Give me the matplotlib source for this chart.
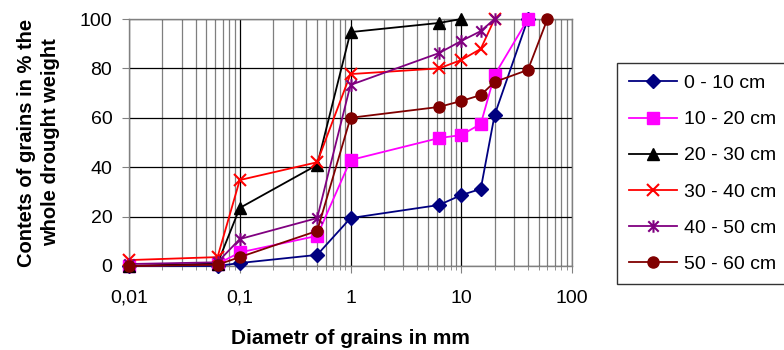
import matplotlib
matplotlib.use("Agg")
import matplotlib.pyplot as plt
from matplotlib.path import Path
from matplotlib.ticker import LogLocator, FixedLocator, FixedFormatter, NullFormatter

plt.rcParams['font.family'] = ['Liberation Sans', 'DejaVu Sans']

# grain diameters in mm
diam = [0.01, 0.063, 0.1, 0.5, 1, 6.3, 10, 15, 20, 40, 60]

# contents in % per depth layer
d0_10 = [0, 0, 1.2, 4.5, 19.4, 24.7, 28.7, 31.2, 61.1, 100]
d10_20 = [0, 0.8, 5.5, 12.2, 42.9, 51.8, 53, 57.5, 77.3, 100]
d20_30 = [0, 1, 23.5, 40.9, 94.7, 98.4, 100]
d30_40 = [2.4, 3.6, 34.8, 42, 77.7, 80, 83.4, 87.9, 100]
d40_50 = [0.8, 1.5, 10.9, 19.4, 73.3, 86.2, 91.1, 95.1, 100]
d50_60 = [0, 0.5, 3.6, 14.2, 60, 64.4, 66.8, 69.2, 74.5, 79.4, 100]

labels = ['0 - 10 cm', '10 - 20 cm', '20 - 30 cm', '30 - 40 cm', '40 - 50 cm', '50 - 60 cm']
colors = ['#000080', '#ff00ff', '#000000', '#ff0000', '#800080', '#800000']
series = [d0_10, d10_20, d20_30, d30_40, d40_50, d50_60]

# excel-like "star": an x with a vertical stroke
star = Path([(-1, -1), (1, 1), (-1, 1), (1, -1), (0, -1.2), (0, 1.2)],
            [Path.MOVETO, Path.LINETO, Path.MOVETO, Path.LINETO, Path.MOVETO, Path.LINETO])
markers = ['D', 's', '^', 'x', star, 'o']
sizes = [7, 8, 8, 8, 9, 8]

fig = plt.figure(figsize=(7.84, 3.5), dpi=100)
ax = fig.add_axes([129 / 784, 1 - 266 / 350, (572 - 129) / 784, (266 - 19) / 350])

for vals, lab, c, m, ms in zip(series, labels, colors, markers, sizes):
    line_marker = m is star or m == 'x'
    ax.plot(diam[:len(vals)], vals, color=c, marker=m, markersize=ms,
            markeredgewidth=1.5 if line_marker else 1, linewidth=1.3, label=lab,
            clip_on=False, zorder=3)

ax.set_xscale('log')
ax.set_xlim(0.01, 100)
ax.set_ylim(0, 100)

ax.xaxis.set_major_locator(FixedLocator([0.01, 0.1, 1, 10, 100]))
ax.xaxis.set_major_formatter(FixedFormatter(['0,01', '0,1', '1', '10', '100']))
ax.xaxis.set_minor_locator(LogLocator(base=10, subs=range(2, 10)))
ax.xaxis.set_minor_formatter(NullFormatter())
ax.set_yticks([0, 20, 40, 60, 80, 100])

ax.grid(True, which='major', axis='both', color='black', linewidth=0.9)
ax.grid(True, which='minor', axis='x', color='#7f7f7f', linewidth=0.9)
ax.set_axisbelow(True)

for s in ax.spines.values():
    s.set_color('#808080')
    s.set_linewidth(1.0)

ax.tick_params(axis='both', which='major', labelsize=14, direction='out', length=5,
               color='#808080', pad=7)
ax.tick_params(axis='x', which='minor', direction='out', length=3, color='#808080')
ax.tick_params(axis='x', which='major', pad=12)

ax.set_xlabel('Diametr of grains in mm', fontsize=15, fontweight='bold', labelpad=16)
ax.set_ylabel('Contets of grains in % the\nwhole drought weight', fontsize=14.5,
              fontweight='bold', labelpad=14, linespacing=1.35)

leg = fig.legend(loc='upper left', bbox_to_anchor=(617 / 784, 1 - 63 / 350),
                 fontsize=14, frameon=True, fancybox=False, edgecolor='black',
                 borderaxespad=0, handlelength=2.5, handletextpad=0.35,
                 labelspacing=0.95, borderpad=0.6)
leg.get_frame().set_linewidth(1.0)

fig.savefig('out.png', dpi=100)
